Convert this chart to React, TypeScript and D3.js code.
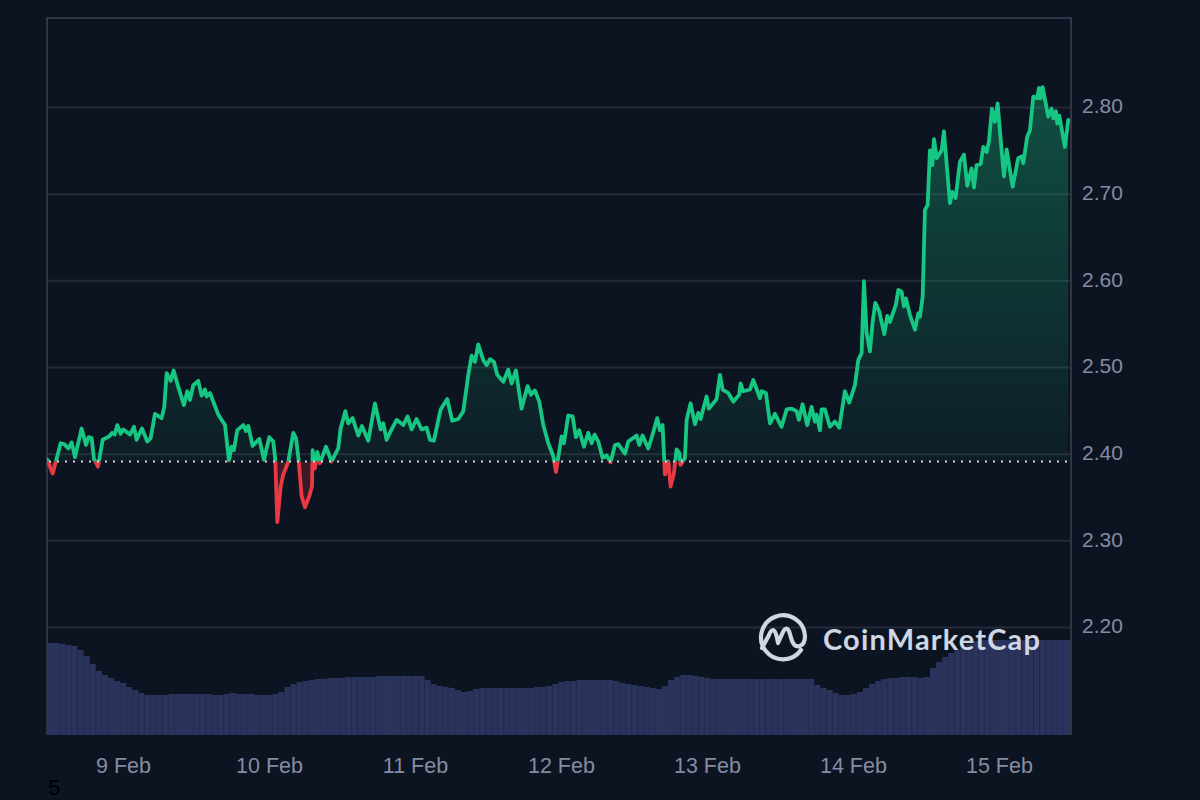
import * as d3 from "d3";
import { useEffect, useRef } from "react";

// hours since 9 Feb 00:00
const hours = [
  -12.44, -11.56, -10.91, -10.25, -9.65, -8.99, -8.44, -7.89, -6.8, -6.08, -5.65, -5.15, -4.77, -4.11, -3.34, -2.25,
  -1.81, -1.37, -0.93, -0.39, 0.05, 1.15, 1.81, 2.24, 3.12, 4.0, 4.55, 5.26, 6.35, 6.79, 7.18, 7.83, 8.33, 9.09,
  10.02, 10.57, 11.01, 11.56, 12.38, 12.93, 13.48, 13.75, 14.3, 15.67, 16.77, 17.42, 17.86, 18.24, 18.79, 19.78,
  20.22, 20.6, 21.31, 22.41, 23.18, 24.05, 24.71, 25.04, 25.37, 25.92, 26.35, 27.18, 28.0, 28.44, 28.87, 29.37,
  29.92, 30.63, 31.07, 31.18, 31.56, 31.94, 32.38, 33.37, 34.3, 35.39, 35.78, 36.55, 37.04, 37.75, 38.68, 39.29,
  40.33, 41.42, 42.35, 42.79, 43.34, 44.16, 44.99, 46.08, 46.79, 47.45, 48.27, 49.09, 49.92, 50.46, 51.12, 52.22,
  53.31, 54.13, 55.12, 55.94, 56.77, 57.31, 57.86, 58.41, 59.23, 59.78, 60.33, 60.98, 61.53, 62.52, 63.34, 63.89,
  64.6, 65.53, 66.52, 67.07, 67.72, 68.44, 69.1, 69.92, 70.74, 71.18, 72.11, 72.49, 73.2, 73.92, 74.46, 75.01,
  75.78, 76.49, 77.04, 77.53, 78.14, 78.85, 79.51, 80.16, 80.88, 81.42, 82.52, 83.07, 84.44, 84.87, 85.42, 86.35,
  86.9, 87.83, 88.27, 88.71, 89.09, 89.64, 90.03, 90.57, 91.01, 91.45, 91.67, 92.38, 92.66, 93.31, 94.03, 94.57,
  94.96, 95.94, 96.33, 97.59, 98.14, 98.58, 99.51, 100.33, 101.31, 101.53, 101.97, 103.07, 103.62, 104.71, 104.99,
  105.7, 106.36, 107.18, 108.27, 109.1, 109.92, 110.74, 111.12, 111.72, 112.49, 113.2, 113.75, 114.03, 114.58,
  114.85, 115.4, 116.22, 117.04, 117.75, 118.68, 119.39, 120.33, 120.88, 121.43, 121.81, 122.25, 122.8, 123.24,
  123.68, 124.33, 125.16, 125.65, 126.09, 127.07, 127.46, 128.0, 128.39, 128.72, 129.37, 130.2, 130.74, 131.02,
  131.46, 131.84, 132.28, 132.66, 133.05, 133.32, 133.76, 134.58, 134.96, 135.4, 135.95, 136.33, 136.88, 137.59,
  138.25, 138.8, 139.51, 139.9, 140.33, 140.99, 141.43, 141.98, 142.36, 142.85, 143.35, 143.79, 144.44, 144.83,
  145.27, 146.25, 147.18, 147.73, 148.0, 148.66, 149.1, 149.65, 150.31, 150.58, 150.85, 151.18, 152.11, 152.66,
  152.94, 153.37, 153.59, 153.92, 154.85, 155.4,
];

const prices = [
  2.393, 2.377, 2.394, 2.412, 2.411, 2.406, 2.413, 2.396, 2.429, 2.41, 2.419, 2.418, 2.394, 2.385, 2.416, 2.42,
  2.424, 2.422, 2.433, 2.423, 2.428, 2.422, 2.431, 2.416, 2.429, 2.414, 2.418, 2.446, 2.441, 2.454, 2.493, 2.484,
  2.496, 2.477, 2.456, 2.472, 2.462, 2.479, 2.484, 2.467, 2.474, 2.466, 2.47, 2.445, 2.433, 2.392, 2.408, 2.404,
  2.427, 2.433, 2.426, 2.432, 2.409, 2.417, 2.393, 2.419, 2.414, 2.393, 2.321, 2.362, 2.376, 2.391, 2.424, 2.418,
  2.393, 2.351, 2.338, 2.351, 2.362, 2.404, 2.383, 2.402, 2.389, 2.408, 2.391, 2.406, 2.429, 2.449, 2.435, 2.441,
  2.421, 2.432, 2.415, 2.458, 2.428, 2.435, 2.416, 2.428, 2.439, 2.433, 2.443, 2.428, 2.44, 2.428, 2.43, 2.416,
  2.415, 2.451, 2.463, 2.438, 2.44, 2.449, 2.491, 2.513, 2.506, 2.526, 2.508, 2.502, 2.509, 2.506, 2.491, 2.483,
  2.497, 2.481, 2.496, 2.452, 2.478, 2.468, 2.473, 2.46, 2.433, 2.412, 2.397, 2.379, 2.42, 2.412, 2.444, 2.443,
  2.419, 2.427, 2.408, 2.424, 2.412, 2.422, 2.414, 2.395, 2.398, 2.39, 2.41, 2.411, 2.4, 2.414, 2.421, 2.41, 2.421,
  2.406, 2.418, 2.441, 2.427, 2.433, 2.376, 2.391, 2.362, 2.377, 2.405, 2.401, 2.387, 2.395, 2.439, 2.458, 2.434,
  2.447, 2.44, 2.466, 2.452, 2.463, 2.491, 2.474, 2.47, 2.46, 2.468, 2.481, 2.472, 2.474, 2.485, 2.464, 2.472,
  2.47, 2.435, 2.446, 2.431, 2.451, 2.452, 2.449, 2.439, 2.457, 2.433, 2.454, 2.437, 2.445, 2.427, 2.451, 2.451,
  2.431, 2.437, 2.43, 2.472, 2.459, 2.479, 2.508, 2.516, 2.599, 2.539, 2.518, 2.552, 2.574, 2.564, 2.538, 2.559,
  2.552, 2.572, 2.589, 2.587, 2.57, 2.579, 2.56, 2.543, 2.562, 2.558, 2.581, 2.681, 2.687, 2.75, 2.733, 2.763,
  2.741, 2.75, 2.772, 2.735, 2.689, 2.702, 2.695, 2.737, 2.745, 2.709, 2.729, 2.707, 2.733, 2.734, 2.754, 2.748,
  2.76, 2.798, 2.783, 2.804, 2.75, 2.72, 2.751, 2.708, 2.741, 2.743, 2.735, 2.766, 2.773, 2.812, 2.81, 2.822, 2.81,
  2.823, 2.789, 2.798, 2.787, 2.795, 2.781, 2.79, 2.754, 2.785,
];

// hourly volume, in $10M
const volumes = [
  184, 184, 182, 180, 178, 170, 158, 142, 128, 120, 114, 108, 104, 96, 90, 84, 80, 80, 80, 80,
  82, 82, 82, 82, 82, 82, 82, 80, 80, 82, 84, 82, 82, 82, 80, 80, 80, 82, 86, 96,
  102, 106, 108, 110, 112, 112, 114, 114, 114, 116, 116, 116, 116, 116, 118, 118, 118, 118, 118, 118,
  118, 118, 110, 102, 98, 96, 94, 90, 86, 88, 92, 94, 94, 94, 94, 94, 94, 94, 94, 94,
  96, 96, 98, 102, 106, 108, 108, 110, 110, 110, 110, 110, 110, 108, 104, 102, 100, 98, 96, 94,
  92, 98, 110, 116, 120, 120, 118, 116, 114, 112, 112, 112, 112, 112, 112, 112, 112, 112, 112, 112,
  112, 112, 112, 112, 112, 112, 100, 94, 90, 84, 80, 80, 82, 86, 94, 102, 108, 112, 114, 114,
  116, 116, 116, 114, 116, 134, 146, 156, 164, 170, 176, 182, 188, 190, 190, 190, 190, 190, 190, 190,
  190, 190, 190, 190, 190, 190, 190, 190,
];

const priceTicks = [2.2, 2.3, 2.4, 2.5, 2.6, 2.7, 2.8];
const dayTicks = [0, 24, 48, 72, 96, 120, 144];
const dayLabels = ["9 Feb", "10 Feb", "11 Feb", "12 Feb", "13 Feb", "14 Feb", "15 Feb"];
const openPrice = 2.391;

const FONT = '"Liberation Sans", Arial, sans-serif';
const GREEN = "#16c784";
const RED = "#ea3943";
const GRID = "#262a38";
const FRAME = "#323546";
const LABEL = "#858ca2";

const App = () => {
  const svgRef = useRef<SVGSVGElement | null>(null);

  useEffect(() => {
    const left = 47;
    const right = 1071;
    const top = 18;
    const bottom = 735;

    const xScale = d3.scaleLinear().domain([-12.49, 155.85]).range([left, right]);
    const yScale = d3.scaleLinear().domain([2.2, 2.8]).range([627, 107]);
    const volScale = d3.scaleLinear().domain([0, 190]).range([bottom, 640]);
    const volBand = d3
      .scaleBand<number>()
      .domain(d3.range(volumes.length))
      .range([left, right - 1]);

    const svg = d3.select(svgRef.current);
    svg.selectAll("*").remove();

    const series = hours.map((hour, i) => ({ hour, price: prices[i] }));
    const baseY = yScale(openPrice);

    const defs = svg.append("defs");
    const up = defs
      .append("linearGradient")
      .attr("id", "upFill")
      .attr("gradientUnits", "userSpaceOnUse")
      .attr("x1", 0)
      .attr("x2", 0)
      .attr("y1", yScale(2.83))
      .attr("y2", baseY);
    up.append("stop").attr("offset", 0).attr("stop-color", GREEN).attr("stop-opacity", 0.34);
    up.append("stop").attr("offset", 1).attr("stop-color", GREEN).attr("stop-opacity", 0.05);
    defs
      .append("clipPath")
      .attr("id", "aboveBase")
      .append("rect")
      .attr("x", left)
      .attr("y", top)
      .attr("width", right - left)
      .attr("height", baseY - top);
    defs
      .append("clipPath")
      .attr("id", "belowBase")
      .append("rect")
      .attr("x", left)
      .attr("y", baseY)
      .attr("width", right - left)
      .attr("height", bottom - baseY);

    svg.append("rect").attr("width", 1200).attr("height", 800).attr("fill", "#0d1421");

    // grid and labels on the right
    const yAxis = svg
      .append("g")
      .attr("transform", `translate(${right},0)`)
      .call(
        d3
          .axisRight(yScale)
          .tickValues(priceTicks)
          .tickSize(-(right - left))
          .tickPadding(11)
          .tickFormat(d3.format(".2f")),
      );
    yAxis.select(".domain").remove();
    yAxis.selectAll("line").attr("stroke", GRID).attr("stroke-width", 2);
    yAxis
      .selectAll("text")
      .attr("fill", LABEL)
      .attr("font-family", FONT)
      .attr("font-size", 21)
      .attr("dy", "0.28em");

    // frame
    svg
      .append("path")
      .attr("d", `M${left},${bottom}V${top}H${right}V${bottom}`)
      .attr("fill", "none")
      .attr("stroke", FRAME)
      .attr("stroke-width", 2);

    // volume
    svg
      .append("g")
      .selectAll("rect")
      .data(volumes)
      .join("rect")
      .attr("x", (_, i) => volBand(i) as number)
      .attr("width", volBand.bandwidth())
      .attr("y", (d) => volScale(d))
      .attr("height", (d) => bottom - volScale(d))
      .attr("fill", "#2a335b");

    const area = d3
      .area<{ hour: number; price: number }>()
      .x((d) => xScale(d.hour))
      .y0(baseY)
      .y1((d) => yScale(d.price));

    const line = d3
      .line<{ hour: number; price: number }>()
      .x((d) => xScale(d.hour))
      .y((d) => yScale(d.price));

    svg
      .append("path")
      .datum(series)
      .attr("clip-path", "url(#aboveBase)")
      .attr("fill", "url(#upFill)")
      .attr("d", area);
    svg
      .append("path")
      .datum(series)
      .attr("clip-path", "url(#belowBase)")
      .attr("fill", RED)
      .attr("fill-opacity", 0.2)
      .attr("d", area);

    [
      { clip: "aboveBase", color: GREEN },
      { clip: "belowBase", color: RED },
    ].forEach(({ clip, color }) => {
      svg
        .append("path")
        .datum(series)
        .attr("clip-path", `url(#${clip})`)
        .attr("fill", "none")
        .attr("stroke", color)
        .attr("stroke-width", 3.8)
        .attr("stroke-linejoin", "round")
        .attr("stroke-linecap", "round")
        .attr("d", line);
    });

    // dotted line at the period's opening price
    svg
      .append("line")
      .attr("x1", left + 2)
      .attr("x2", right - 2)
      .attr("y1", baseY)
      .attr("y2", baseY)
      .attr("stroke", "#cfd6e4")
      .attr("stroke-width", 2)
      .attr("stroke-dasharray", "2 6");

    const xAxis = svg
      .append("g")
      .attr("transform", `translate(0,${bottom})`)
      .call(
        d3
          .axisBottom(xScale)
          .tickValues(dayTicks)
          .tickSize(0)
          .tickPadding(23)
          .tickFormat((_, i) => dayLabels[i]),
      );
    xAxis.select(".domain").remove();
    xAxis.selectAll("text").attr("fill", LABEL).attr("font-family", FONT).attr("font-size", 21.5);

    // watermark
    const logo = svg.append("g").attr("fill", "none").attr("stroke", "#cfd6e4");
    logo
      .append("path")
      .attr("stroke-width", 4.2)
      .attr("stroke-linecap", "round")
      .attr("stroke-linejoin", "round")
      .attr(
        "d",
        "M801,650A22,22 0 1 1 805,636Q805,644 800,646Q795,648 792,641L789,631Q786,626 783,632L778,643Q776,630 773,630Q771,630 769,635L762,648",
      );
    svg
      .append("text")
      .attr("x", 823)
      .attr("y", 650)
      .attr("fill", "#cfd6e4")
      .attr("font-family", "Lato, sans-serif")
      .attr("font-weight", 700)
      .attr("font-size", 29)
      .attr("textLength", 217)
      .text("CoinMarketCap");

    svg
      .append("text")
      .attr("x", 48)
      .attr("y", 795)
      .attr("fill", "#000")
      .attr("font-family", FONT)
      .attr("font-size", 22)
      .text("5");
  }, []);

  return (
    <svg
      ref={svgRef}
      width={1200}
      height={800}
      style={{ position: "fixed", left: 0, top: 0 }}
    ></svg>
  );
};

export default App;
